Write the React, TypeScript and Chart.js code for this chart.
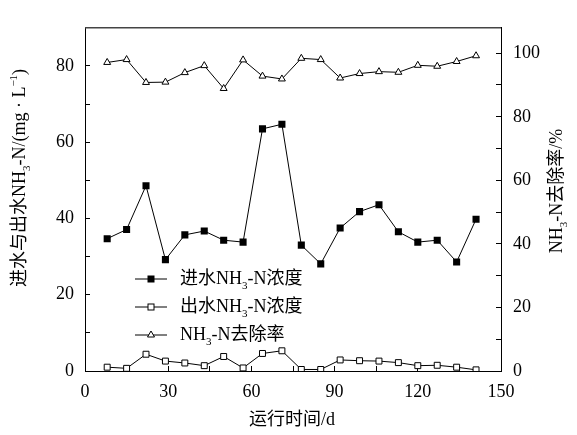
import React, { useEffect, useRef } from "react";
import { Chart, registerables } from "chart.js";

Chart.register(...registerables);

// ---- data ----
const days = [8, 15, 22, 29, 36, 43, 50, 57, 64, 71, 78, 85, 92, 99, 106, 113, 120, 127, 134, 141];
const influent = [34.7, 37.1, 48.6, 29.2, 35.7, 36.7, 34.3, 33.8, 63.5, 64.7, 33.0, 28.1, 37.5, 41.8, 43.6, 36.5, 33.8, 34.3, 28.6, 39.8];
const effluent = [1.0, 0.7, 4.4, 2.6, 2.1, 1.4, 3.8, 0.8, 4.6, 5.3, 0.4, 0.4, 2.9, 2.7, 2.6, 2.2, 1.4, 1.5, 1.0, 0.3];
const removal = [97.1, 98.0, 90.8, 90.9, 93.9, 96.1, 88.9, 97.9, 92.8, 91.9, 98.4, 98.0, 92.2, 93.6, 94.2, 94.0, 96.2, 95.9, 97.4, 99.2];

// text parts: [text, kind] kind 0 = normal, 1 = subscript, 2 = superscript
type Part = [string, number];
const legendInfluent: Part[] = [["进水NH", 0], ["3", 1], ["-N浓度", 0]];
const legendEffluent: Part[] = [["出水NH", 0], ["3", 1], ["-N浓度", 0]];
const legendRemoval: Part[] = [["NH", 0], ["3", 1], ["-N去除率", 0]];
const leftTitle: Part[] = [["进水与出水NH", 0], ["3", 1], ["-N/(mg · L", 0], ["−1", 2], [")", 0]];
const rightTitle: Part[] = [["NH", 0], ["3", 1], ["-N去除率/%", 0]];
const xTitle: Part[] = [["运行时间/d", 0]];

const FONT = "'Liberation Serif', 'Times New Roman', 'Noto Sans CJK SC', serif";

function partFont(kind: number, size: number) {
  const s = kind === 0 ? size : Math.round(size * 0.62);
  return `${s}px ${FONT}`;
}

function richWidth(ctx: CanvasRenderingContext2D, parts: Part[], size: number) {
  let w = 0;
  for (const [t, k] of parts) {
    ctx.font = partFont(k, size);
    w += ctx.measureText(t).width;
  }
  return w;
}

function drawRich(ctx: CanvasRenderingContext2D, parts: Part[], x: number, y: number, align: string, size: number) {
  const total = richWidth(ctx, parts, size);
  let cx = align === "center" ? x - total / 2 : x;
  ctx.textBaseline = "middle";
  ctx.textAlign = "left";
  for (const [t, k] of parts) {
    ctx.font = partFont(k, size);
    const dy = k === 1 ? size * 0.38 : k === 2 ? -size * 0.3 : 0;
    ctx.fillText(t, cx, y + dy);
    cx += ctx.measureText(t).width;
  }
}

const decorPlugin = {
  id: "decor",
  afterDraw(chart: any) {
    const ctx: CanvasRenderingContext2D = chart.ctx;
    const a = chart.chartArea;
    ctx.save();
    // top frame line
    ctx.strokeStyle = "#444";
    ctx.lineWidth = 1.5;
    ctx.beginPath();
    ctx.moveTo(a.left, a.top);
    ctx.lineTo(a.right, a.top);
    ctx.stroke();

    ctx.fillStyle = "#000";
    // axis titles
    ctx.save();
    ctx.translate(20, 178);
    ctx.rotate(-Math.PI / 2);
    drawRich(ctx, leftTitle, 0, 0, "center", 18);
    ctx.restore();

    ctx.save();
    ctx.translate(557, 191);
    ctx.rotate(-Math.PI / 2);
    drawRich(ctx, rightTitle, 0, 0, "center", 18);
    ctx.restore();

    drawRich(ctx, xTitle, 292, 420, "center", 18);

    // legend
    const rows: [Part[], number][] = [
      [legendInfluent, 279],
      [legendEffluent, 307],
      [legendRemoval, 335],
    ];
    rows.forEach(([parts, y], i) => {
      ctx.strokeStyle = "#000";
      ctx.lineWidth = 1;
      ctx.beginPath();
      ctx.moveTo(135, y);
      ctx.lineTo(167, y);
      ctx.stroke();
      const mx = 151;
      if (i === 0) {
        ctx.fillStyle = "#000";
        ctx.fillRect(mx - 3.5, y - 3.5, 7, 7);
      } else if (i === 1) {
        ctx.fillStyle = "#fff";
        ctx.fillRect(mx - 3, y - 3, 6, 6);
        ctx.strokeRect(mx - 3, y - 3, 6, 6);
      } else {
        ctx.fillStyle = "#fff";
        ctx.beginPath();
        ctx.moveTo(mx, y - 4);
        ctx.lineTo(mx + 3.5, y + 2);
        ctx.lineTo(mx - 3.5, y + 2);
        ctx.closePath();
        ctx.fill();
        ctx.stroke();
      }
      ctx.fillStyle = "#000";
      drawRich(ctx, parts, 180, y, "left", 18);
    });
    ctx.restore();
  },
};

const tickFont = { family: FONT, size: 18 };

export default function App() {
  const ref = useRef<HTMLCanvasElement>(null);
  useEffect(() => {
    document.body.style.margin = "0";
    const canvas = ref.current!;
    const chart = new Chart(canvas, {
      type: "line",
      data: {
        datasets: [
          {
            label: "进水NH3-N浓度",
            data: days.map((d, i) => ({ x: d, y: influent[i] })),
            yAxisID: "y",
            borderColor: "#000",
            borderWidth: 1,
            pointStyle: "rect",
            pointRadius: 5,
            pointBackgroundColor: "#000",
            pointBorderColor: "#000",
            pointBorderWidth: 0,
          },
          {
            label: "出水NH3-N浓度",
            data: days.map((d, i) => ({ x: d, y: effluent[i] })),
            yAxisID: "y",
            borderColor: "#000",
            borderWidth: 1,
            pointStyle: "rect",
            pointRadius: 4.2,
            pointBackgroundColor: "#fff",
            pointBorderColor: "#000",
            pointBorderWidth: 1,
          },
          {
            label: "NH3-N去除率",
            data: days.map((d, i) => ({ x: d, y: removal[i] })),
            yAxisID: "y1",
            borderColor: "#000",
            borderWidth: 1,
            pointStyle: "triangle",
            pointRadius: 4,
            pointBackgroundColor: "#fff",
            pointBorderColor: "#000",
            pointBorderWidth: 1,
          },
        ],
      },
      options: {
        responsive: false,
        animation: false,
        layout: { padding: { top: 3, left: 0, right: 0, bottom: 0 } },
        plugins: { legend: { display: false }, tooltip: { enabled: false } },
        scales: {
          x: {
            type: "linear",
            min: 0,
            max: 150,
            afterFit: (s: any) => { s.height = 64; },
            grid: { drawOnChartArea: false, drawTicks: true, tickLength: -5, color: "#000", lineWidth: 1 },
            border: { display: true, color: "#000", width: 1 },
            ticks: {
              stepSize: 15,
              autoSkip: false,
              maxRotation: 0,
              padding: 15,
              color: "#000",
              font: tickFont,
              callback: (v: any) => (v % 30 === 0 ? String(v) : ""),
            },
          },
          y: {
            type: "linear",
            position: "left",
            min: 0,
            max: 90,
            afterFit: (s: any) => { s.width = 85; },
            grid: { drawOnChartArea: false, drawTicks: true, tickLength: -5, color: "#000", lineWidth: 1 },
            border: { display: true, color: "#000", width: 1 },
            ticks: {
              stepSize: 10,
              autoSkip: false,
              padding: 16,
              color: "#000",
              font: tickFont,
              callback: (v: any) => (v % 20 === 0 ? String(v) : ""),
            },
          },
          y1: {
            type: "linear",
            position: "right",
            min: 0,
            max: 108,
            afterFit: (s: any) => { s.width = 76; },
            grid: { drawOnChartArea: false, drawTicks: true, tickLength: -5, color: "#000", lineWidth: 1 },
            border: { display: true, color: "#000", width: 1 },
            ticks: {
              stepSize: 10,
              autoSkip: false,
              padding: 17,
              color: "#000",
              font: tickFont,
              callback: (v: any) => (v % 20 === 0 && v <= 100 ? String(v) : ""),
            },
          },
        },
      },
      plugins: [decorPlugin],
    } as any);
    return () => chart.destroy();
  }, []);
  return <canvas ref={ref} width={577} height={435} style={{ display: "block", width: 577, height: 435 }} />;
}
